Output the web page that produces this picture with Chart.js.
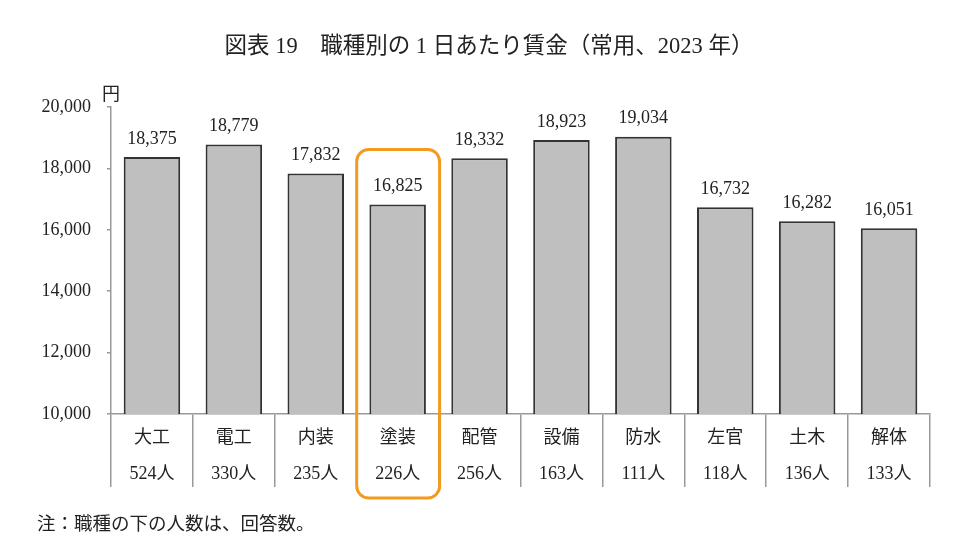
<!DOCTYPE html>
<html lang="ja">
<head>
<meta charset="utf-8">
<title>職種別の1日あたり賃金</title>
<script src="https://cdn.jsdelivr.net/npm/chart.js@4.4.1/dist/chart.umd.min.js"></script>
<style>
  html, body { margin: 0; padding: 0; background: #fff; }
  #wrap { width: 960px; height: 540px; }
</style>
</head>
<body>
<div id="wrap"><canvas id="wage" width="960" height="540"></canvas></div>
<script>
// 職種と回答数
const trades = ['大工', '電工', '内装', '塗装', '配管', '設備', '防水', '左官', '土木', '解体'];
const respondents = [524, 330, 235, 226, 256, 163, 111, 118, 136, 133];
// 1日あたり賃金（円）
const wages = [18375, 18779, 17832, 16825, 18332, 18923, 19034, 16732, 16282, 16051];
const yTicks = [10000, 12000, 14000, 16000, 18000, 20000];
const highlighted = '塗装';

const titleText = '図表 19　職種別の 1 日あたり賃金（常用、2023 年）';
const noteText = '注：職種の下の人数は、回答数。';
const unitText = '円';

const serif = '"Liberation Serif", "DejaVu Serif", "Noto Sans CJK JP", serif';
const ink = '#222';
const axisGray = '#999';
const orange = '#f39a21';

// 値ラベル・単位・タイトル・注・強調枠
const annotate = {
    id: 'annotate',
    afterDatasetsDraw(chart) {
        const { ctx, chartArea, scales: { x, y } } = chart;
        const meta = chart.getDatasetMeta(0);
        ctx.save();
        ctx.fillStyle = ink;
        ctx.textAlign = 'center';
        ctx.textBaseline = 'middle';
        ctx.font = '18px ' + serif;
        meta.data.forEach((bar, i) => {
            ctx.fillText(wages[i].toLocaleString('en-US'), bar.x, bar.y - 18);
        });
        ctx.fillText(unitText, chartArea.left, y.getPixelForValue(yTicks[yTicks.length - 1]) - 12);

        ctx.font = '22.5px ' + serif;
        ctx.fillText(titleText, chart.width / 2 + 9, 47);

        ctx.textAlign = 'left';
        ctx.font = '18.5px ' + serif;
        ctx.fillText(noteText, 37, 525);

        // 塗装の列を囲む
        const i = trades.indexOf(highlighted);
        const half = (x.getPixelForValue(1) - x.getPixelForValue(0)) / 2;
        const cx = x.getPixelForValue(i);
        const top = meta.data[i].y - 55;
        ctx.strokeStyle = orange;
        ctx.lineWidth = 3;
        ctx.beginPath();
        ctx.roundRect(cx - half, top, half * 2 + 1, chartArea.bottom + 84 - top, 12);
        ctx.stroke();
        ctx.restore();
    }
};

new Chart(document.getElementById('wage'), {
    type: 'bar',
    data: {
        labels: trades.map((t, i) => [t, respondents[i] + '人']),
        datasets: [{
            data: wages,
            backgroundColor: '#bfbfbf',
            borderColor: '#333',
            borderWidth: 2,
            categoryPercentage: 1,
            barPercentage: 0.69
        }]
    },
    options: {
        responsive: false,
        animation: false,
        layout: { padding: { top: 107, right: 30, bottom: 40, left: 0 } },
        plugins: {
            legend: { display: false },
            tooltip: { enabled: false }
        },
        scales: {
            x: {
                afterFit: (s) => { s.height = 86; },
                border: { display: true, color: axisGray, width: 1.5 },
                grid: {
                    offset: true,
                    drawOnChartArea: false,
                    drawTicks: true,
                    tickLength: 73,
                    color: axisGray,
                    lineWidth: 1.5
                },
                ticks: {
                    color: ink,
                    padding: -67,
                    maxRotation: 0,
                    autoSkip: false,
                    font: { family: serif, size: 18, lineHeight: 2 }
                }
            },
            y: {
                min: yTicks[0],
                max: yTicks[yTicks.length - 1],
                afterFit: (s) => { s.width = 111; },
                afterBuildTicks: (s) => { s.ticks = yTicks.map(v => ({ value: v })); },
                border: { display: true, color: axisGray, width: 1.5 },
                grid: {
                    drawOnChartArea: false,
                    drawTicks: true,
                    tickLength: 4,
                    color: axisGray,
                    lineWidth: 1.5
                },
                ticks: {
                    color: ink,
                    padding: 16,
                    font: { family: serif, size: 18 },
                    callback: (v) => v.toLocaleString('en-US')
                }
            }
        }
    },
    plugins: [annotate]
});
</script>
</body>
</html>
